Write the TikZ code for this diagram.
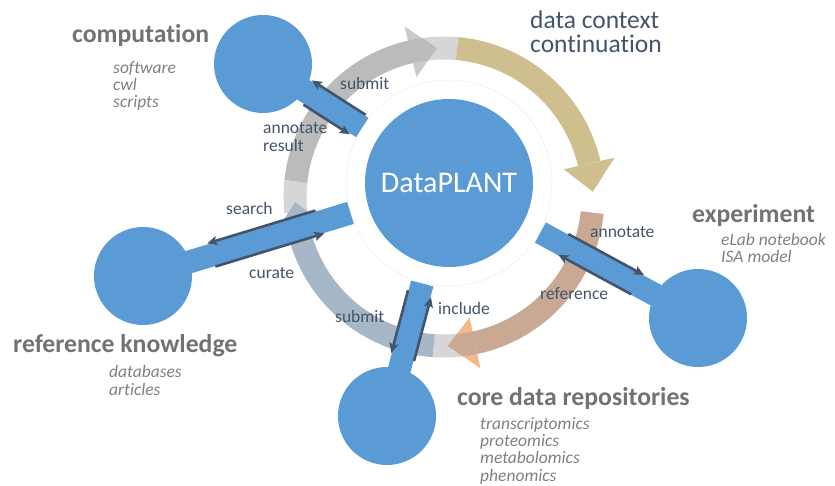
\documentclass[tikz,border=0pt]{standalone}
\usepackage{fontspec}
\setmainfont{Carlito}[Ligatures={NoCommon}]
\usetikzlibrary{calc,arrows.meta}
\definecolor{dpblue}{HTML}{5B9BD5}
\definecolor{darkline}{HTML}{44546A}
\definecolor{titlegray}{HTML}{767171}
\definecolor{listgray}{HTML}{808080}
\definecolor{ringgray}{HTML}{BBBBBB}
\definecolor{ringhead}{HTML}{CACACA}
\definecolor{ringlight}{HTML}{D6D6D6}
\definecolor{tanc}{HTML}{D0BF8E}
\definecolor{brownc}{HTML}{C9A994}
\definecolor{peachc}{HTML}{F4B98A}
\definecolor{bluegray}{HTML}{A6B7C7}
\definecolor{bluegrayhead}{HTML}{B7C6D3}
\begin{document}
\begin{tikzpicture}[x=1pt,y=-1pt,
  sat/.style={circle, fill=dpblue, minimum size=98pt, inner sep=0pt},
  hub/.style={circle, fill=dpblue, minimum size=168pt, inner sep=0pt, text=white, font=\fontsize{30}{36}\selectfont},
  bar/.style={line width=23pt, dpblue},
  flow/.style={line width=2.6pt, darkline, -{Stealth[length=10pt,width=9pt,inset=2pt]}},
  title/.style={anchor=base west, inner sep=0pt, text=titlegray, font=\fontsize{25.7}{30}\selectfont\bfseries},
  items/.style={anchor=base west, inner sep=0pt, text=listgray, font=\fontsize{17.5}{17.3}\selectfont\itshape, align=left},
  lab/.style={anchor=base west, inner sep=0pt, text=darkline, font=\fontsize{17.5}{18}\selectfont, align=left},
  band/.style={line width=23pt},
]
\useasboundingbox (0,0) rectangle (835,486);
\coordinate (rc) at (444,197);
% ring: light pieces
\draw[band, ringlight] (rc) ++(-186:149) arc[start angle=-186, end angle=-174, radius=149];
\draw[band, ringlight] (rc) ++(-104:149) arc[start angle=-104, end angle=-85, radius=149];
\draw[band, ringlight] (rc) ++(78:149) arc[start angle=78, end angle=96, radius=149];
% gray arrow
\draw[band, ringgray] (rc) ++(-174:149) arc[start angle=-174, end angle=-103, radius=149];
\fill[ringhead] ($(rc)+(-103:123)$) -- ($(rc)+(-103:175)$) -- ($(rc)+(-92.7:149)$) -- cycle;
\begin{scope}
  \clip ($(rc)+(-103:123)$) -- ($(rc)+(-103:175)$) -- ($(rc)+(-92.7:149)$) -- cycle;
  \draw[band, ringgray] (rc) ++(-104:149) arc[start angle=-104, end angle=-92, radius=149];
\end{scope}
% tan arrow
\draw[band, tanc] (rc) ++(-85:149) arc[start angle=-85, end angle=-13, radius=149];
\fill[tanc] ($(rc)+(-13:123)$) -- ($(rc)+(-13:175)$) -- ($(rc)+(-2:149)$) -- cycle;
% brown arrow
\draw[band, brownc] (rc) ++(6:149) arc[start angle=6, end angle=78, radius=149];
\fill[peachc] ($(rc)+(78:123)$) -- ($(rc)+(78:175)$) -- ($(rc)+(88.5:149)$) -- cycle;
\begin{scope}
  \clip ($(rc)+(78:123)$) -- ($(rc)+(78:175)$) -- ($(rc)+(88.5:149)$) -- cycle;
  \draw[band, brownc] (rc) ++(77:149) arc[start angle=77, end angle=89, radius=149];
\end{scope}
% blue-gray arrow
\draw[band, bluegray] (rc) ++(94:149) arc[start angle=94, end angle=167, radius=149];
\fill[bluegrayhead] ($(rc)+(167:123)$) -- ($(rc)+(167:175)$) -- ($(rc)+(178:149)$) -- cycle;
\begin{scope}
  \clip ($(rc)+(167:123)$) -- ($(rc)+(167:175)$) -- ($(rc)+(178:149)$) -- cycle;
  \draw[band, bluegray] (rc) ++(166:149) arc[start angle=166, end angle=179, radius=149];
\end{scope}

% nodes
\node[hub] (dp) at (449,183) {DataPLANT};
\draw[line width=0.8pt, black!5] (dp) circle[radius=103];
\node[sat] (comp) at (263,64) {};
\node[sat] (ref) at (143,276) {};
\node[sat] (core) at (387,416) {};
\node[sat] (exp) at (698,318) {};

% bars
\draw[bar] (comp.center) -- ($(dp)!103pt!(comp)$);
\draw[bar] (ref.center) -- ($(dp)!103pt!(ref)$);
\draw[bar] (core.center) -- ($(dp)!104pt!(core)$);
\draw[bar] (exp.center) -- ($(dp)!104pt!(exp)$);

% flow arrows
\draw[flow] ($(comp)!114pt!(dp)!12.5pt!90:(dp)$) -- ($(comp)!50pt!(dp)!12.5pt!90:(dp)$);
\draw[flow] ($(comp)!56pt!(dp)!12.5pt!-90:(dp)$) -- ($(comp)!111pt!(dp)!12.5pt!-90:(dp)$);
\draw[flow] ($(ref)!184pt!(dp)!12.5pt!90:(dp)$) -- ($(ref)!71pt!(dp)!12.5pt!90:(dp)$);
\draw[flow] ($(ref)!72pt!(dp)!12pt!-90:(dp)$) -- ($(ref)!186pt!(dp)!12pt!-90:(dp)$);
\draw[flow] ($(core)!127pt!(dp)!12pt!90:(dp)$) -- ($(core)!62pt!(dp)!12pt!90:(dp)$);
\draw[flow] ($(core)!60pt!(dp)!12pt!-90:(dp)$) -- ($(core)!126pt!(dp)!12pt!-90:(dp)$);
\draw[flow] ($(exp)!154pt!(dp)!12pt!-90:(dp)$) -- ($(exp)!68pt!(dp)!12pt!-90:(dp)$);
\draw[flow] ($(exp)!70pt!(dp)!11pt!90:(dp)$) -- ($(exp)!153pt!(dp)!11pt!90:(dp)$);

% labels (multi-line nodes: base = last line)
\node[lab] (l1) at (340,90) {submit};
\node[lab] (l2) at (263,152) {annotate\\result};
\node[lab] (l3) at (226,215) {search};
\node[lab] (l4) at (249,279) {curate};
\node[lab] (l5) at (335,323) {submit};
\node[lab] (l6) at (438,314) {include};
\node[lab] (l7) at (590,238) {annotate};
\node[lab] (l8) at (540,299) {reference};

% titles
\node[title] (t1) at (72,43) {computation};
\node[items] (i1) at (113,108) {software\\cwl\\scripts};
\node[title] (t2) at (13,352) {reference knowledge};
\node[items] (i2) at (109,395) {databases\\articles};
\node[title] (t3) at (692,223) {experiment};
\node[items] (i3) at (721,263) {eLab notebook\\ISA model};
\node[title] (t4) at (457,405) {core data repositories};
\node[items] (i4) at (480,481) {transcriptomics\\proteomics\\metabolomics\\phenomics};
\node[anchor=base west, inner sep=0pt, text=darkline, font=\fontsize{25.5}{24}\selectfont, align=left] (t5) at (530,53) {data context\\continuation};
\end{tikzpicture}
\end{document}
